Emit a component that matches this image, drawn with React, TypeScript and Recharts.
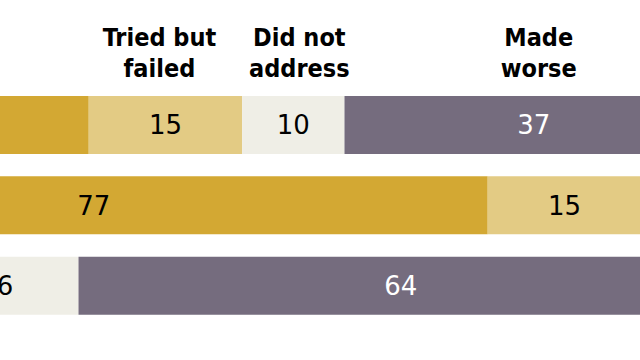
import React from 'react';
import { BarChart, Bar, XAxis, YAxis, LabelList } from 'recharts';

const categories = ['Obama', 'Bush', 'Trump'];
const madeBetter = [38, 77, 11];
const triedButFailed = [15, 15, 10];
const didNotAddress = [10, 5, 16];
const madeWorse = [37, 3, 64];

const seriesNames = ['Made better', 'Tried but failed', 'Did not address', 'Made worse'];
const headerLines = [['Made', 'better'], ['Tried but', 'failed'], ['Did not', 'address'], ['Made', 'worse']];

const colors = ['#D3A833', '#E3CB84', '#EFEEE6', '#756C7E'];
const labelColors = ['#000', '#000', '#000', '#fff'];
const headerNudge = [0, -6, 6, 5];

const headerFont = "'Liberation Sans Narrow', 'DejaVu Sans Condensed', 'DejaVu Sans', sans-serif";
const valueFont = "'DejaVu Sans', sans-serif";

const data = categories.map((name, i) => ({
  name,
  better: madeBetter[i],
  tried: triedButFailed[i],
  notAddressed: didNotAddress[i],
  worse: madeWorse[i],
}));

const keys = ['better', 'tried', 'notAddressed', 'worse'];

const makeHeader = (s: number) => (props: any) => {
  const { x, y, width, index } = props;
  if (index !== 0) return null;
  const cx = Number(x) + Number(width) / 2 + headerNudge[s];
  return (
    <text textAnchor="middle" fontFamily={headerFont} fontWeight="bold" fontSize={25} fill="#000">
      <tspan x={cx} y={Number(y) - 50}>{headerLines[s][0]}</tspan>
      <tspan x={cx} y={Number(y) - 19}>{headerLines[s][1]}</tspan>
    </text>
  );
};

const App = () => {
  return (
    <div style={{ position: 'fixed', left: 0, top: 0, width: 640, height: 360, overflow: 'hidden', background: '#fff' }}>
      <div style={{ position: 'absolute', left: -300, top: 0 }}>
        <BarChart
          width={1023}
          height={360}
          data={data}
          layout="vertical"
          margin={{ top: 85, right: 0, bottom: 34, left: 0 }}
        >
          <XAxis type="number" domain={[0, 100]} allowDataOverflow hide />
          <YAxis type="category" dataKey="name" hide />
          {keys.map((k, s) => (
            <Bar key={k} dataKey={k} name={seriesNames[s]} stackId="a" fill={colors[s]} barSize={58} isAnimationActive={false}>
              <LabelList
                dataKey={k}
                position="center"
                fill={labelColors[s]}
                fontSize={26}
                fontFamily={valueFont}
              />
              <LabelList dataKey={k} content={makeHeader(s)} />
            </Bar>
          ))}
        </BarChart>
      </div>
    </div>
  );
};

export default App;
